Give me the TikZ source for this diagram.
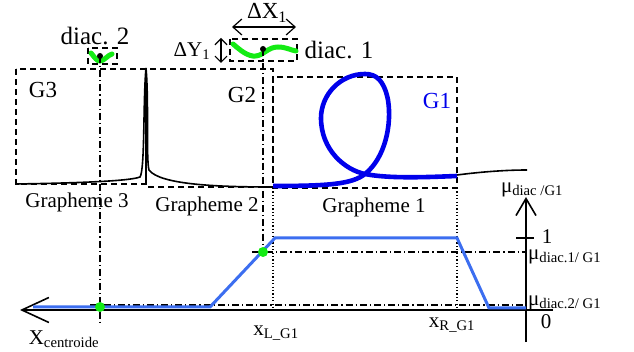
\documentclass[tikz,border=0pt]{standalone}
\usepackage{fontspec}
\setmainfont{Liberation Serif}
\usetikzlibrary{arrows.meta,calc}
\definecolor{gblue}{RGB}{0,0,235}
\definecolor{mublue}{RGB}{60,110,240}
\definecolor{dgreen}{RGB}{20,235,20}

\begin{document}
\begin{tikzpicture}[x=1pt,y=-1pt,
	gbox/.style={dash pattern=on 6pt off 4pt,line width=1.4pt},
	proj/.style={dash pattern=on 7pt off 3pt on 1.2pt off 3pt,line width=1.3pt},
	guide/.style={dash pattern=on 1.2pt off 2.2pt,line width=1.2pt},
	ink/.style={line width=1.6pt},
	gink/.style={line width=4.6pt,gblue},
	dink/.style={line width=5pt,dgreen,line cap=round},
	muline/.style={line width=3pt,mublue},
	cd/.style={circle,fill,inner sep=0pt,minimum size=6pt},
	gd/.style={circle,fill=dgreen,inner sep=0pt,minimum size=10pt},
	txt/.style={font=\fontsize{21}{24}\selectfont,inner sep=0pt},
	big/.style={font=\fontsize{25}{28}\selectfont,inner sep=0pt}]
	
	\useasboundingbox (0,0) rectangle (634,352);
	
	% Points used by the projection lines
	\coordinate (d2) at (100,56);
	\coordinate (d1) at (263,49);
	\coordinate (m2) at (100,307);
	\coordinate (m1) at (263,252);
	\coordinate (o) at (526,310);
	
	% Grapheme boxes
	\draw[gbox] (16,69) rectangle (146,184);
	\draw[gbox] (146,69) rectangle (273,187);
	\draw[gbox] (273,77) rectangle (457,188);
	\node[txt,font=\fontsize{23}{26}\selectfont] (lg3) at (43,90) {G3};
	\node[txt,font=\fontsize{23}{26}\selectfont] (lg2) at (242,95) {G2};
	\node[txt,font=\fontsize{23}{26}\selectfont,gblue] (lg1) at (437,101) {G1};
	\node[txt] (n3) at (77,202) {Grapheme 3};
	\node[txt] (n2) at (207,206) {Grapheme 2};
	\node[txt] (n1) at (374,207) {Grapheme 1};
	
	% Handwriting
	\draw[ink] (16,184) .. controls (80,183) and (130,181) .. (140,177)
	.. controls (145,170) and (143,100) .. (146,68)
	.. controls (149,100) and (146,160) .. (149,170)
	.. controls (160,185) and (220,187) .. (273,187);
	\draw[ink] (457,175) .. controls (480,172) and (505,170) .. (527,170);
	\draw[gink] (273,186) .. controls (330,186) and (352,184) .. (365,174)
	.. controls (385,158) and (392,125) .. (388,100)
	.. controls (384,80) and (376,74) .. (365,74)
	.. controls (340,74) and (321,95) .. (321,118)
	.. controls (321,150) and (345,170) .. (365,174)
	.. controls (390,179) and (430,177) .. (457,176);
	
	% Diacritics
	\draw[gbox,line width=1.1pt] (88,48) rectangle (117,64);
	\draw[dink] (91,53) .. controls (95,58) and (97,61) .. (100,61)
	.. controls (104,61) and (108,55) .. (112,54);
	\node[big] (ld2) at (95,36) {diac. 2};
	\draw[gbox,line width=1.1pt] (230,39) rectangle (297,61);
	\draw[dink] (233,44) .. controls (240,50) and (248,57) .. (256,56)
	.. controls (264,55) and (268,47) .. (278,47)
	.. controls (286,47) and (290,50) .. (296,51);
	\node[big] (ld1) at (339,50) {diac. 1};
	\coordinate (xa) at (232,27);
	\coordinate (xb) at (296,27);
	\draw[line width=1.2pt,{Straight Barb[length=9pt,width=16pt]}-{Straight Barb[length=9pt,width=16pt]}] (xa) -- (xb);
	\node[txt,font=\fontsize{23}{26}\selectfont] (ldx) at (267,13) {ΔX\textsubscript{1}};
	\coordinate (ya) at (221,38);
	\coordinate (yb) at (221,63);
	\draw[line width=1.2pt,{Straight Barb[length=6pt,width=12pt]}-{Straight Barb[length=6pt,width=12pt]}] (ya) -- (yb);
	\node[txt] (ldy) at (192,51) {ΔY\textsubscript{1}};
	
	% Projection lines
	\draw[proj] (d2) -- (100,325);
	\draw[proj] (d1) -- (m1);
	\draw[proj] (252,252) -- (m1 -| o);
	\draw[proj] (90,305) -- (o |- 0,305);
	\draw[guide] (273,188) -- (273,310);
	\draw[guide] (457,188) -- (457,310);
	
	% Axes
	\draw[line width=1.6pt,-{Straight Barb[length=27pt,width=25pt]}] (553,310) -- (20,310);
	\draw[line width=1.6pt,-{Straight Barb[length=17pt,width=20pt]}] (526,342) -- (526,197);
	\draw[line width=1.6pt] (516,238) -- (534,238);
	
	% Membership function
	\draw[muline] (33,307) -- (210,307) -- (275,238) -- (457,238)
	-- (489,308) -- (526,308);
	
	% Dots
	\node[cd] at (d2) {};
	\node[cd] at (d1) {};
	\node[gd] at (m2) {};
	\node[gd] at (m1) {};
	
	% Axis labels
	\node[txt] (lmu) at (532,190) {μ\textsubscript{diac /G1}};
	\node[txt] (l1) at (547,237) {1};
	\node[txt,anchor=west] (lm1) at (528,257) {μ\textsubscript{diac.1/ G1}};
	\node[txt,anchor=west] (lm2) at (528,303) {μ\textsubscript{diac.2/ G1}};
	\node[txt] (l0) at (546,322) {0};
	\node[txt] (lxr) at (452,325) {x\textsubscript{R\_G1}};
	\node[txt] (lxl) at (276,333) {x\textsubscript{L\_G1}};
	\node[txt] (lxc) at (64,339) {X\textsubscript{centroide}};
	
\end{tikzpicture}
\end{document}
